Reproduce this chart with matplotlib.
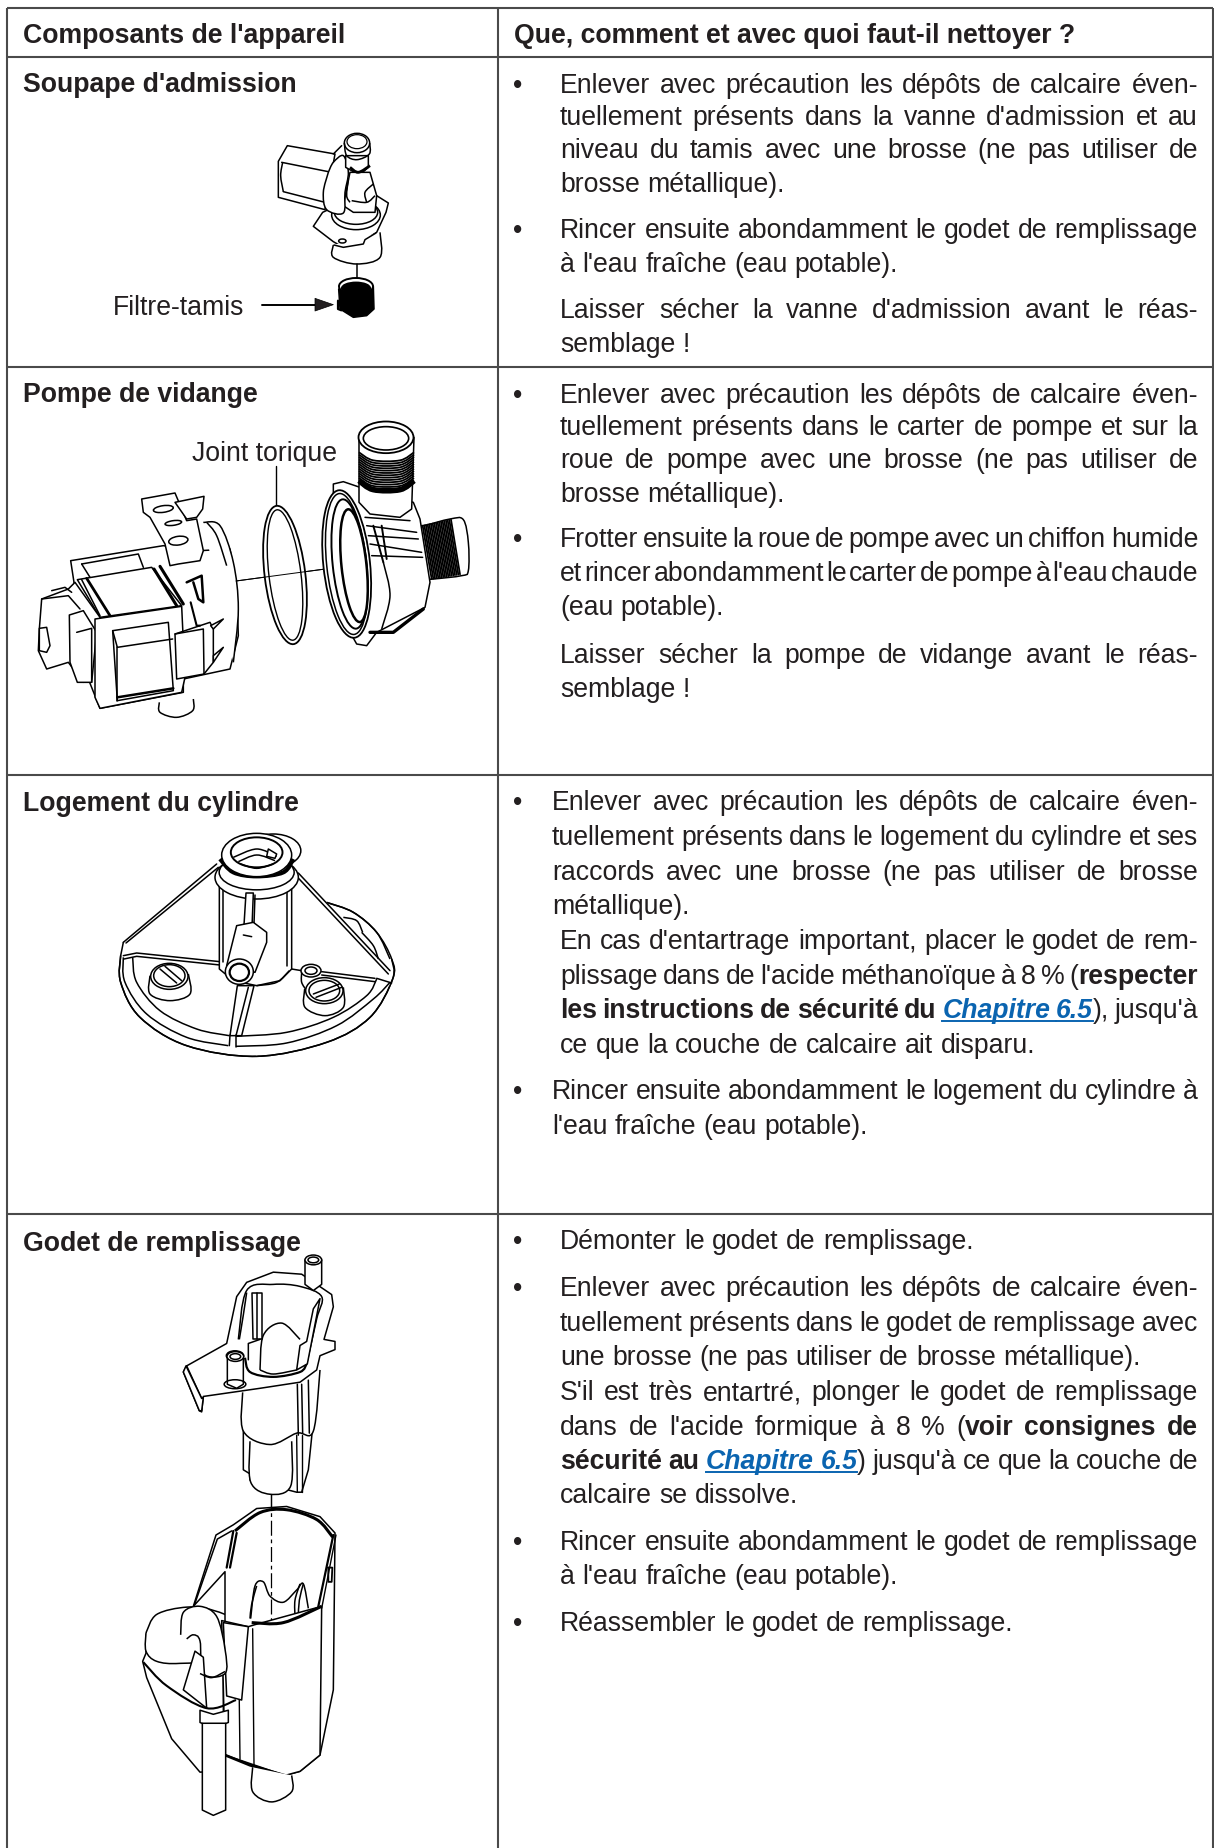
import numpy as np
import matplotlib
matplotlib.use("Agg")
import matplotlib.pyplot as plt
from matplotlib.patches import Ellipse, Polygon, PathPatch
from matplotlib.path import Path

plt.rcParams['font.family'] = ['Liberation Sans', 'DejaVu Sans']

W, H = 1214, 1849
INK = '#231f20'
RULE = '#4a4a4a'
LINK = '#0a64b0'
FS = 19.2

# table grid, in picture pixels
col_x = [7, 498, 1213]
row_y = [9, 58, 368, 776, 1215, 1849]

header = ["Composants de l'appareil", "Que, comment et avec quoi faut-il nettoyer ?"]
components = ["Soupape d'admission", "Pompe de vidange", "Logement du cylindre", "Godet de remplissage"]
component_y = [92, 402, 811, 1251]

# right column: (baseline, left x, justified, [(text, style), ...])
X1, X3, X3B = 560, 552, 560
lines = [
    (93, X1, True, [("Enlever avec précaution les dépôts de calcaire éven-", 'r')]),
    (125, X1, True, [("tuellement présents dans la vanne d'admission et au", 'r')]),
    (158, X1, True, [("niveau du tamis avec une brosse (ne pas utiliser de", 'r')]),
    (192, X1, False, [("brosse métallique).", 'r')]),
    (238, X1, True, [("Rincer ensuite abondamment le godet de remplissage", 'r')]),
    (272, X1, False, [("à l'eau fraîche (eau potable).", 'r')]),
    (318, X1, True, [("Laisser sécher la vanne d'admission avant le réas-", 'r')]),
    (352, X1, False, [("semblage !", 'r')]),
    (403, X1, True, [("Enlever avec précaution les dépôts de calcaire éven-", 'r')]),
    (435, X1, True, [("tuellement présents dans le carter de pompe et sur la", 'r')]),
    (468, X1, True, [("roue de pompe avec une brosse (ne pas utiliser de", 'r')]),
    (502, X1, False, [("brosse métallique).", 'r')]),
    (547, X1, True, [("Frotter ensuite la roue de pompe avec un chiffon humide", 'r')]),
    (581, X1, True, [("et rincer abondamment le carter de pompe à l'eau chaude", 'r')]),
    (615, X1, False, [("(eau potable).", 'r')]),
    (663, X1, True, [("Laisser sécher la pompe de vidange avant le réas-", 'r')]),
    (697, X1, False, [("semblage !", 'r')]),
    (810, X3, True, [("Enlever avec précaution les dépôts de calcaire éven-", 'r')]),
    (845, X3, True, [("tuellement présents dans le logement du cylindre et ses", 'r')]),
    (880, X3, True, [("raccords avec une brosse (ne pas utiliser de brosse", 'r')]),
    (914, X3, False, [("métallique).", 'r')]),
    (949, X3B, True, [("En cas d'entartrage important, placer le godet de rem-", 'r')]),
    (984, X3B, True, [("plissage dans de l'acide méthanoïque à 8 % (", 'r'), ("respecter", 'b')]),
    (1018, X3B, True, [("les instructions de sécurité du ", 'b'), ("Chapitre 6.5", 'l'), ("), jusqu'à", 'r')]),
    (1053, X3B, False, [("ce que la couche de calcaire ait disparu.", 'r')]),
    (1099, X3, True, [("Rincer ensuite abondamment le logement du cylindre à", 'r')]),
    (1134, X3, False, [("l'eau fraîche (eau potable).", 'r')]),
    (1249, X1, False, [("Démonter le godet de remplissage.", 'r')]),
    (1296, X1, True, [("Enlever avec précaution les dépôts de calcaire éven-", 'r')]),
    (1331, X1, True, [("tuellement présents dans le godet de remplissage avec", 'r')]),
    (1365, X1, False, [("une brosse (ne pas utiliser de brosse métallique).", 'r')]),
    (1400, X1, True, [("S'il est très entartré, plonger le godet de remplissage", 'r')]),
    (1435, X1, True, [("dans de l'acide formique à 8 % (", 'r'), ("voir consignes de", 'b')]),
    (1469, X1, True, [("sécurité au ", 'b'), ("Chapitre 6.5", 'l'), (") jusqu'à ce que la couche de", 'r')]),
    (1503, X1, False, [("calcaire se dissolve.", 'r')]),
    (1550, X1, True, [("Rincer ensuite abondamment le godet de remplissage", 'r')]),
    (1584, X1, False, [("à l'eau fraîche (eau potable).", 'r')]),
    (1631, X1, False, [("Réassembler le godet de remplissage.", 'r')]),
]
bullets = [(93, 518), (238, 518), (403, 518), (547, 518), (810, 518), (1099, 518),
           (1249, 518), (1296, 518), (1550, 518), (1631, 518)]
RIGHT = 1198

fig = plt.figure(figsize=(W / 100, H / 100), dpi=100)
ax = fig.add_axes([0, 0, 1, 1])
ax.set_xlim(0, W)
ax.set_ylim(H, 0)
ax.axis('off')


def style_of(s):
    if s == 'b':
        return dict(fontweight='bold')
    if s == 'l':
        return dict(fontweight='bold', fontstyle='italic', color=LINK)
    return {}


rend = fig.canvas.get_renderer()


def width(txt, s):
    t = ax.text(0, 0, txt, fontsize=FS, **style_of(s))
    w = t.get_window_extent(rend).width
    t.remove()
    return w


def put_line(y, x0, just, segs):
    words = []
    for txt, s in segs:
        parts = txt.split()
        glue_left = not txt[0].isspace()
        for i, p in enumerate(parts):
            words.append([p, s, i == 0 and glue_left])
    # words glued to the former segment have no gap in front, unless that segment ended in a space
    for k, (txt, s) in enumerate(segs[:-1]):
        if txt.endswith(' '):
            first = sum(len(t.split()) for t, _ in segs[:k + 1])
            words[first][2] = False
    widths = [width(w[0], w[1]) for w in words]
    gaps = sum(1 for w in words[1:] if not w[2])
    gap = width("a a", 'r') - width("aa", 'r')
    if just and gaps:
        gap = (RIGHT - x0 - sum(widths)) / gaps
    x = x0
    for i, (w, wd) in enumerate(zip(words, widths)):
        if i and not w[2]:
            x += gap
        ax.text(x, y, w[0], fontsize=FS, color=style_of(w[1]).get('color', INK), va='baseline',
                fontweight=style_of(w[1]).get('fontweight', 'normal'),
                fontstyle=style_of(w[1]).get('fontstyle', 'normal'))
        if w[1] == 'l':
            ax.plot([x, x + wd + (gap if i + 1 < len(words) and words[i + 1][1] == 'l' else 0)],
                    [y + 4, y + 4], color=LINK, lw=1.4)
        x += wd


# drawing helpers for the illustrations; each part has its own origin and scale
class Pen:
    def __init__(self, ox, oy, sx, sy):
        self.ox, self.oy, self.sx, self.sy = ox, oy, sx, sy
        self.z = 3

    def xy(self, pts):
        a = np.asarray(pts, float)
        return np.c_[a[:, 0] * self.sx + self.ox, a[:, 1] * self.sy + self.oy]

    def poly(self, pts, fc='white', lw=1.1):
        self.z += 0.01
        ax.add_patch(Polygon(self.xy(pts), closed=True, fc=fc, ec='black', lw=lw, zorder=self.z, joinstyle='round'))

    def line(self, pts, lw=1.1, ls='-'):
        self.z += 0.01
        p = self.xy(pts)
        ax.plot(p[:, 0], p[:, 1], color='black', lw=lw, ls=ls, zorder=self.z, solid_capstyle='round')

    def ell(self, cx, cy, w, h, ang=0, fc='white', lw=1.1):
        self.z += 0.01
        c = self.xy([(cx, cy)])[0]
        ax.add_patch(Ellipse(c, w * self.sx, h * self.sy, angle=ang, fc=fc, ec='black', lw=lw, zorder=self.z))

    def curve(self, pts, fc='none', lw=1.1, closed=False):
        # catmull-rom through the points, handed to Path as cubic segments
        p = self.xy(pts)
        if closed:
            q = np.vstack([p[-1], p, p[0], p[1]])
        else:
            q = np.vstack([p[0], p, p[-1]])
        verts = [q[1]]
        codes = [Path.MOVETO]
        for i in range(1, len(q) - 2):
            verts += [q[i] + (q[i + 1] - q[i - 1]) / 6, q[i + 1] - (q[i + 2] - q[i]) / 6, q[i + 1]]
            codes += [Path.CURVE4] * 3
        self.z += 0.01
        ax.add_patch(PathPatch(Path(verts, codes), fc=fc, ec='black', lw=lw, zorder=self.z))


def draw_valve():
    g = Pen(0, 0, 1 / 3, 1 / 3)
    g.poly([(862, 440), (835, 487), (835, 595), (975, 632), (1005, 465)])
    g.line([(845, 490), (985, 518)])
    g.curve([(848, 490), (842, 530), (850, 578)])
    g.line([(850, 578), (975, 610)])
    g.line([(1000, 465), (1025, 440)])
    g.poly([(940, 682), (968, 640), (1010, 620), (1130, 590), (1165, 612), (1158, 640), (1130, 700),
            (1095, 722), (1090, 735), (1030, 745), (1000, 728)])
    g.curve([(1000, 738), (1000, 775), (1070, 795), (1140, 775), (1140, 700)], fc='white')
    g.line([(1002, 738), (1030, 745), (1090, 735), (1095, 722), (1128, 702)])
    g.ell(1027, 726, 22, 12)
    g.ell(1068, 648, 146, 88, fc='white')
    g.ell(1068, 640, 130, 72, fc='white')
    g.poly([(1050, 520), (1110, 520), (1130, 590), (1125, 640), (1060, 640), (1030, 620)])
    g.curve([(985, 520), (1000, 490), (1030, 470), (1045, 520), (1035, 580), (1030, 642), (980, 632),
             (970, 580), (985, 520)], fc='white')
    g.curve([(1045, 540), (1040, 590), (1050, 610)])
    g.curve([(1120, 555), (1095, 580), (1100, 610)])
    g.curve([(1055, 605), (1100, 610), (1125, 590)])
    g.poly([(1037, 470), (1037, 505), (1060, 518), (1090, 518), (1105, 505), (1105, 470)])
    g.curve([(1050, 505), (1075, 520), (1110, 500)], lw=2)
    g.ell(1071, 432, 76, 58)
    g.ell(1071, 428, 60, 42, lw=0.9)
    g.curve([(1033, 432), (1040, 470), (1071, 482), (1108, 465), (1109, 432)], fc='none')
    g.line([(1070, 795), (1070, 842)])
    g.poly([(1016, 870), (1020, 930), (1060, 955), (1100, 950), (1122, 930), (1120, 862)], fc='black')
    g.ell(1068, 862, 102, 50, fc='white', lw=1.4)
    g.ell(1068, 868, 86, 36, fc='black')
    g.line([(1014, 905), (1014, 930), (1024, 934)], lw=1.6)
    g.line([(787, 917), (950, 917)], lw=1.4)
    g.poly([(945, 898), (1000, 917), (945, 936)], fc=INK, lw=0.5)


def draw_pump():
    g = Pen(0, 370, 1 / 3, 1 / 3)
    # axis
    g.line([(708, 636), (1050, 590)], lw=0.7)
    # motor
    g.poly([(212, 575), (490, 530), (600, 545), (690, 540), (710, 660), (715, 800), (690, 900), (550, 930),
            (550, 970), (300, 1018), (205, 780), (222, 640)])
    g.curve([(610, 460), (660, 470), (700, 580), (715, 720), (700, 880)], fc='white')
    g.curve([(620, 460), (650, 500), (680, 590)])
    g.poly([(425, 390), (525, 372), (560, 455), (590, 450), (610, 545), (600, 575), (535, 585), (510, 590),
            (495, 525), (450, 445), (430, 430)])
    g.poly([(525, 400), (612, 382), (608, 420), (590, 445), (560, 450)])
    g.ell(490, 420, 60, 20, -8)
    g.ell(520, 462, 50, 14, -8)
    g.ell(535, 515, 58, 26, -8)
    g.line([(245, 585), (415, 555), (430, 595)])
    g.line([(245, 585), (270, 625)])
    g.poly([(232, 632), (455, 595), (545, 710), (300, 745)])
    g.line([(245, 632), (300, 740)])
    g.line([(260, 628), (330, 740)], lw=2)
    g.line([(462, 600), (530, 710)], lw=2.2)
    g.line([(480, 592), (550, 705)], lw=2.2)
    g.poly([(125, 690), (205, 660), (225, 640), (300, 745), (290, 800), (250, 940), (205, 880), (140, 900),
            (115, 845), (118, 780)])
    g.line([(155, 665), (195, 655), (215, 670)])
    g.line([(125, 690), (205, 680), (240, 720)])
    g.poly([(118, 778), (140, 775), (150, 830), (140, 850), (118, 845)])
    g.poly([(208, 738), (250, 725), (290, 790), (275, 940), (232, 940), (210, 880)])
    g.poly([(285, 750), (545, 712), (555, 925), (545, 970), (300, 1018), (285, 985)])
    g.line([(230, 790), (275, 778), (275, 940)])
    g.poly([(338, 785), (505, 760), (520, 965), (352, 995)])
    g.line([(338, 785), (352, 835), (518, 810)])
    g.line([(352, 835), (352, 995)])
    g.line([(352, 985), (520, 958)], lw=1.8)
    g.curve([(478, 1000), (480, 1030), (530, 1045), (578, 1025), (580, 990)], fc='white')
    g.poly([(525, 795), (610, 780), (612, 915), (530, 930)])
    g.line([(525, 795), (630, 760), (640, 780), (640, 880), (612, 915)])
    g.poly([(632, 770), (670, 750), (640, 780)])
    g.poly([(640, 860), (670, 835), (640, 880)])
    g.line([(560, 640), (605, 620), (610, 700), (595, 690), (580, 640)], lw=1.8)
    g.line([(572, 700), (590, 770), (600, 770)], lw=1.5)
    # o-ring
    g.ell(855, 618, 122, 418, -7, lw=1.3)
    g.ell(855, 618, 96, 394, -7, lw=1.0)
    g.line([(708, 636), (1050, 590)], lw=0.7)
    # pump housing
    g.curve([(1250, 460), (1268, 470), (1350, 450), (1390, 452), (1405, 520), (1405, 605), (1385, 620),
             (1300, 630), (1280, 630)], fc='white')
    for k in range(18):
        t = k / 17
        g.line([(1268 + 85 * t, 470 - 18 * t), (1295 + 85 * t, 630 - 14 * t)], lw=1.3)
    g.poly([(1000, 345), (1030, 338), (1080, 355), (1240, 400), (1260, 450), (1290, 640), (1275, 715),
            (1130, 790), (1100, 830), (1070, 825), (1000, 700)])
    g.ell(1040, 585, 140, 445, -6, lw=1.3)
    g.ell(1040, 585, 120, 425, -6)
    g.ell(1048, 585, 100, 390, -6, lw=1.4)
    g.ell(1062, 590, 75, 340, -6, lw=1.8)
    g.poly([(1077, 205), (1077, 400), (1110, 435), (1200, 445), (1235, 420), (1242, 205)])
    for yy in np.arange(250, 345, 7):
        g.curve([(1077, yy), (1120, yy + 24), (1200, yy + 24), (1242, yy)], lw=1.3)
    g.curve([(1077, 335), (1120, 362), (1200, 362), (1242, 335)], lw=4)
    g.ell(1158, 205, 165, 95, lw=1.3)
    g.ell(1158, 208, 136, 70, lw=1.2)
    g.line([(1100, 470), (1250, 490)])
    g.line([(1095, 445), (1230, 455)])
    g.line([(1105, 500), (1255, 510)])
    g.line([(1110, 525), (1265, 550)])
    g.line([(1115, 560), (1268, 565)])
    g.line([(1120, 470), (1150, 580)], lw=1.4)
    g.line([(1145, 470), (1160, 570)], lw=1.4)
    g.curve([(1150, 580), (1170, 680), (1145, 780)])
    g.line([(1110, 790), (1180, 790), (1270, 720)], lw=2.4)
    g.line([(828, 292), (828, 408)], lw=1)


def draw_housing():
    g = Pen(0, 770, 1 / 3, 1 / 3)
    g.curve([(362, 560), (362, 640), (420, 745), (560, 830), (770, 862), (980, 820), (1110, 745),
             (1178, 630), (1175, 570), (1130, 490), (1060, 430), (980, 400)], fc='white')
    g.poly([(370, 520), (650, 285), (895, 315), (1170, 610), (1170, 650), (770, 860), (370, 640)], fc='white', lw=0)
    g.line([(370, 520), (650, 285)])
    g.line([(378, 522), (655, 295)])
    g.line([(895, 312), (1170, 605)])
    g.line([(890, 322), (1165, 615)])
    g.line([(370, 520), (362, 560)])
    g.curve([(362, 560), (362, 640), (420, 745), (560, 830), (770, 862), (980, 820), (1110, 745),
             (1178, 630), (1175, 570)])
    g.curve([(370, 565), (375, 640), (440, 735), (560, 805), (685, 830)])
    g.curve([(398, 565), (410, 640), (480, 725), (590, 780), (688, 800)])
    g.curve([(708, 832), (860, 822), (1010, 770), (1120, 690), (1170, 640)])
    g.curve([(708, 802), (860, 790), (1000, 745), (1100, 680), (1130, 630)])
    g.line([(370, 560), (410, 552), (660, 578)])
    g.line([(372, 570), (410, 562), (660, 588)])
    g.line([(1130, 628), (1175, 642)])
    g.line([(965, 608), (1125, 628)])
    g.line([(965, 618), (1125, 638)])
    g.line([(875, 600), (905, 605)])
    g.curve([(985, 402), (1060, 430), (1130, 490), (1170, 570)])
    g.curve([(1030, 445), (1070, 455), (1088, 490)])
    g.curve([(1085, 490), (1120, 530), (1135, 570)])
    # cylinder
    g.poly([(658, 345), (658, 600), (700, 635), (770, 650), (840, 635), (875, 600), (875, 345)])
    g.line([(668, 350), (668, 580)])
    g.line([(862, 350), (862, 590)])
    g.curve([(770, 650), (830, 640), (868, 605)])
    g.ell(770, 325, 250, 130, fc='white')
    g.ell(770, 310, 225, 105, fc='white')
    g.curve([(660, 270), (700, 310), (770, 322), (850, 310), (880, 270)], lw=3)
    g.ell(820, 245, 165, 100, fc='none')
    g.ell(770, 258, 210, 130, fc='white')
    g.ell(770, 250, 155, 90, fc='white', lw=1.4)
    g.curve([(700, 265), (770, 240), (830, 262)])
    g.curve([(715, 278), (770, 258), (825, 275)])
    g.curve([(722, 285), (770, 298), (820, 285)])
    g.poly([(805, 240), (830, 255), (825, 268), (800, 262)], lw=1.1)
    # spout
    g.poly([(738, 372), (760, 372), (755, 500), (730, 500)])
    g.line([(765, 378), (762, 465)])
    g.poly([(710, 470), (760, 460), (800, 490), (800, 520), (765, 610), (680, 590)])
    g.line([(730, 498), (755, 503)])
    g.ell(718, 608, 84, 76, 0)
    g.ell(718, 610, 58, 52, 0, lw=1.6)
    # fins
    g.poly([(712, 650), (762, 650), (725, 800), (690, 800)])
    g.line([(745, 655), (708, 800)])
    g.line([(690, 798), (688, 830)])
    g.line([(708, 798), (708, 834)])
    # screw posts
    g.curve([(450, 620), (450, 675), (510, 695), (570, 675), (565, 615)], fc='white')
    g.ell(508, 622, 112, 78, 0)
    g.ell(508, 620, 94, 66, 0)
    g.line([(480, 600), (530, 642)], lw=1.1)
    g.line([(495, 592), (545, 635)], lw=1.1)
    g.curve([(905, 610), (905, 640), (920, 665)], fc='none')
    g.ell(933, 605, 60, 38)
    g.ell(933, 605, 36, 22)
    g.curve([(914, 660), (915, 715), (975, 740), (1030, 715), (1030, 655)], fc='white')
    g.ell(973, 665, 112, 78, 0)
    g.ell(973, 665, 92, 62, 0)
    g.line([(940, 675), (1018, 645)])
    g.line([(948, 685), (1025, 655)])


def draw_cup():
    g = Pen(100, 1210, 1 / 3, 1 / 2.454)
    # upper part
    g.poly([(430, 570), (430, 640), (450, 650), (450, 665), (590, 695), (605, 695), (625, 640), (655, 400),
            (430, 470)])
    g.curve([(450, 570), (452, 670), (510, 700), (572, 680), (575, 570)], fc='white')
    g.line([(590, 555), (592, 695)], lw=1)
    g.line([(605, 555), (605, 695)], lw=1)
    g.curve([(428, 450), (430, 545), (510, 578), (590, 550), (640, 545), (660, 395)], fc='white')
    g.line([(592, 430), (595, 555)])
    g.line([(605, 430), (608, 550)])
    g.line([(625, 420), (628, 550)])
    g.poly([(250, 400), (260, 385), (380, 330), (410, 215), (440, 180), (520, 155), (605, 160), (695, 210),
            (700, 240), (672, 320), (705, 325), (705, 345), (660, 360), (650, 395), (600, 425), (480, 440),
            (310, 460), (305, 498), (298, 495)])
    g.line([(260, 385), (305, 465)])
    g.poly([(250, 400), (298, 495), (305, 495), (310, 462), (305, 465), (258, 385)])
    g.curve([(415, 320), (440, 200), (520, 185), (600, 190), (665, 215), (650, 270), (620, 380)])
    g.curve([(440, 205), (430, 260), (418, 320)])
    g.curve([(435, 365), (450, 400), (520, 412), (600, 400), (620, 380)], lw=1.6)
    g.curve([(480, 395), (490, 310), (545, 280), (600, 320)], fc='white')
    g.curve([(480, 395), (520, 405), (590, 395)])
    g.poly([(590, 395), (600, 335), (620, 325), (640, 245), (660, 220), (622, 380)])
    g.poly([(455, 205), (485, 205), (485, 320), (458, 320)], fc='white')
    g.line([(470, 205), (470, 320)])
    g.line([(445, 370), (445, 330), (480, 320)])
    g.ell(405, 360, 52, 24)
    g.poly([(382, 362), (382, 430), (410, 440), (430, 430), (430, 362)])
    g.ell(406, 362, 50, 24)
    g.ell(406, 362, 32, 14)
    g.ell(405, 430, 65, 22, fc='none')
    g.poly([(615, 125), (615, 185), (640, 200), (665, 185), (665, 125)])
    g.ell(640, 125, 50, 24)
    g.ell(640, 125, 32, 14)
    g.line([(512, 700), (512, 1010)], lw=0.9, ls=(0, (12, 3, 3, 3)))
    # lower part
    g.poly([(138, 1045), (138, 1090), (128, 1110), (140, 1150), (215, 1300), (300, 1382), (370, 1378),
            (370, 1040), (280, 1000)])
    g.curve([(138, 1040), (170, 995), (260, 977), (340, 985), (400, 1015), (370, 1100), (240, 1115),
             (170, 1110), (138, 1085), (138, 1040)], fc='white')
    g.poly([(280, 975), (348, 800), (400, 775), (470, 735), (560, 730), (660, 755), (705, 795), (700, 1180),
            (660, 1340), (600, 1380), (555, 1390), (375, 1340), (375, 890)])
    g.curve([(405, 790), (480, 745), (560, 738), (650, 762), (698, 805)], lw=2.2)
    g.line([(283, 972), (352, 810), (395, 790)])
    g.line([(380, 880), (400, 790)], lw=1.6)
    g.line([(390, 880), (410, 795)], lw=1.6)
    g.line([(700, 800), (655, 975)], lw=1.6)
    g.line([(708, 800), (665, 980)], lw=1)
    g.line([(685, 880), (697, 880), (695, 915), (685, 915), (685, 880)], lw=1.3)
    g.curve([(452, 1005), (465, 925), (490, 915), (510, 950), (550, 965), (590, 935), (610, 920), (625, 980)])
    g.curve([(470, 925), (455, 970), (450, 1005)])
    g.curve([(600, 920), (585, 960), (585, 1000)])
    g.curve([(610, 920), (598, 960), (595, 1000)])
    g.line([(512, 700), (512, 1010)], lw=0.9, ls=(0, (12, 3, 3, 3)))
    g.poly([(365, 1010), (445, 1025), (465, 1020), (665, 975), (660, 1340), (600, 1380), (555, 1390),
            (375, 1340)], fc='white')
    g.curve([(455, 1015), (550, 1015), (665, 975)], lw=2.2)
    g.line([(415, 1020), (420, 1350)], lw=1)
    g.line([(458, 1030), (462, 1365)], lw=1)
    g.line([(375, 1340), (450, 1365), (555, 1390)], lw=2)
    g.curve([(458, 1370), (458, 1430), (515, 1455), (575, 1430), (575, 1390)], fc='white')
    g.poly([(370, 1015), (445, 1025), (425, 1205), (380, 1195)])
    g.curve([(242, 1045), (250, 990), (300, 975), (350, 1000), (375, 1080), (375, 1140), (310, 1140),
             (300, 1060), (280, 1045), (260, 1055)], fc='white')
    g.poly([(285, 1085), (250, 1180), (320, 1225), (310, 1100)], fc='white')
    g.curve([(300, 1140), (335, 1150), (375, 1135)])
    g.curve([(130, 1112), (200, 1170), (320, 1225), (408, 1205)], lw=1.5)
    g.poly([(300, 1230), (300, 1260), (340, 1275), (385, 1260), (385, 1230), (340, 1240)])
    g.poly([(307, 1262), (307, 1475), (340, 1488), (377, 1475), (377, 1262)])


def add_labels():
    ax.text(113, 315, "Filtre-tamis", fontsize=FS, color=INK, va='baseline')
    ax.text(192, 461, "Joint torique", fontsize=FS, color=INK, va='baseline')


# grid
for x in col_x:
    ax.plot([x, x], [row_y[0], row_y[-1]], color=RULE, lw=1.5, zorder=2, solid_capstyle='butt')
for y in row_y[:-1]:
    ax.plot([col_x[0], col_x[-1]], [y, y], color=RULE, lw=1.5, zorder=2, solid_capstyle='butt')

ax.text(23, 43, header[0], fontsize=FS, fontweight='bold', color=INK, va='baseline')
ax.text(514, 43, header[1], fontsize=FS, fontweight='bold', color=INK, va='baseline')
for name, y in zip(components, component_y):
    ax.text(23, y, name, fontsize=FS, fontweight='bold', color=INK, va='baseline', zorder=6)

for y, x0, just, segs in lines:
    put_line(y, x0, just, segs)
for y, x in bullets:
    ax.text(x, y, "•", fontsize=FS, color=INK, va='baseline', ha='center')

draw_valve()
draw_pump()
draw_housing()
draw_cup()
add_labels()

fig.savefig("out.png", dpi=100, facecolor='white')
